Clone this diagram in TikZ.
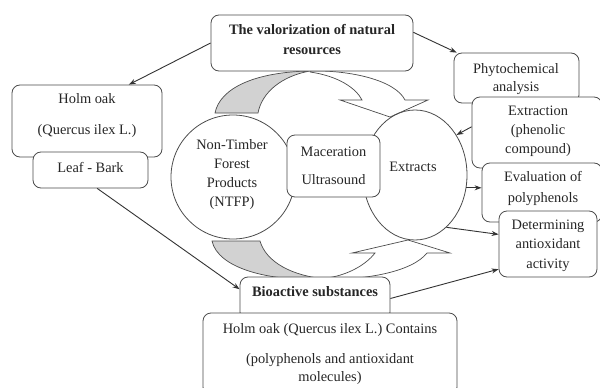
\documentclass[tikz,border=0pt]{standalone}
\usepackage{fontspec}
\setmainfont{Liberation Serif}
\usetikzlibrary{arrows.meta,shapes.geometric,calc}
\begin{document}
\begin{tikzpicture}[x=1pt,y=-1pt,
 font=\fontsize{14.4}{17}\selectfont,
 box/.style={draw=black!70,line width=0.8pt,rounded corners=8pt,fill=white,inner sep=0pt},
 txt/.style={inner sep=0pt,align=center,text=black!85},
 conn/.style={draw=black!80,line width=0.9pt,-{Stealth[length=7pt,width=5pt]}},
 band/.style={draw=black!70,line width=0.7pt}]
\useasboundingbox (0,0) rectangle (600,388);
\fill[white] (0,0) rectangle (600,388);
% curved ribbon arrows
\filldraw[band, fill=gray!35] (215,113) .. controls (220,88) and (255,72) .. (310,71)
  .. controls (282,76) and (262,92) .. (258,113) -- cycle;
\draw[band] (310,71) .. controls (350,70) and (395,80) .. (405,100) -- (428,100) -- (390,117)
  -- (340,100) -- (362,100) .. controls (356,88) and (338,76) .. (310,72);
\filldraw[band, fill=gray!35] (212,241) .. controls (218,268) and (268,282) .. (326,279)
  .. controls (292,276) and (266,262) .. (260,241) -- cycle;
\draw[band] (326,279) .. controls (365,280) and (412,272) .. (427,253) -- (450,253) -- (408,240)
  -- (352,253) -- (375,253) .. controls (365,266) and (345,276) .. (326,278);
% circles
\node[circle,draw=black!70,line width=0.8pt,minimum size=124pt,inner sep=0pt] (ntfp) at (233,177) {};
\node[txt,font=\fontsize{14.4}{19}\selectfont] (ntfptxt) at (232,175) {Non-Timber\\Forest\\Products\\(NTFP)};
\node[ellipse,draw=black!70,line width=0.8pt,minimum width=104pt,minimum height=130pt,inner sep=0pt] (extracts) at (415,175) {};
\node[txt] (extractstxt) at (413,167) {Extracts};
% boxes
\node[box,minimum width=93pt,minimum height=62pt] (mac) at (333.5,166) {};
\node[txt,font=\fontsize{14.4}{28}\selectfont] (mactxt) at (333.5,166) {Maceration\\Ultrasound};
\node[box,minimum width=202pt,minimum height=56pt] (val) at (312,43) {};
\node[txt,font=\bfseries\fontsize{14.4}{20}\selectfont] (valtxt) at (312,40) {The valorization of natural\\resources};
\node[box,minimum width=150pt,minimum height=72pt] (holm) at (87,121) {};
\node[txt,font=\fontsize{14.4}{31}\selectfont] (holmtxt) at (87,115.5) {Holm oak\\(Quercus ilex L.)};
\node[box,minimum width=115pt,minimum height=36pt] (leaf) at (90.5,170) {};
\node[txt] (leaftxt) at (90.5,167) {Leaf - Bark};
\node[box,minimum width=125pt,minimum height=50pt] (phyto) at (516.5,78) {};
\node[txt,font=\fontsize{14.4}{18}\selectfont] (phytotxt) at (516,79) {Phytochemical\\analysis};
\node[box,minimum width=130pt,minimum height=71pt] (extraction) at (537,132.5) {};
\node[txt,font=\fontsize{14.4}{19}\selectfont] (extractiontxt) at (538,131) {Extraction\\(phenolic\\compound)};
\node[box,minimum width=120pt,minimum height=59pt] (eval) at (542,192.5) {};
\node[txt,font=\fontsize{14.4}{21}\selectfont] (evaltxt) at (543,188.5) {Evaluation of\\polyphenols};
\node[box,minimum width=98pt,minimum height=66pt] (det) at (548,244) {};
\node[txt,font=\fontsize{14.4}{19.5}\selectfont] (dettxt) at (548,245.5) {Determining\\antioxidant\\activity};
\node[box,minimum width=150pt,minimum height=43pt] (bio) at (315,298.5) {};
\node[txt,font=\bfseries\fontsize{14.4}{17}\selectfont] (biotxt) at (315,292) {Bioactive substances};
\node[box,minimum width=254pt,minimum height=82pt] (cont) at (330,354) {};
\node[txt,font=\fontsize{14.4}{18}\selectfont] (conttxt) at (330,354) {Holm oak (Quercus ilex L.) Contains\\[12pt](polyphenols and antioxidant\\molecules)};
% connectors
\draw[conn] (val.west) -- (holm.41);
\draw[conn] (val.6) -- (phyto.157);
\draw[conn] (extraction.175) -- (extracts.44);
\draw[conn] (extracts.-14) -- (extracts.-14 -| eval.west);
\draw[conn] (extracts.-59) -- (det.169);
\draw[conn] (bio.east) -- (det.207);
\draw[conn] (leaf.-70) -- (bio.173);
\end{tikzpicture}
\end{document}
